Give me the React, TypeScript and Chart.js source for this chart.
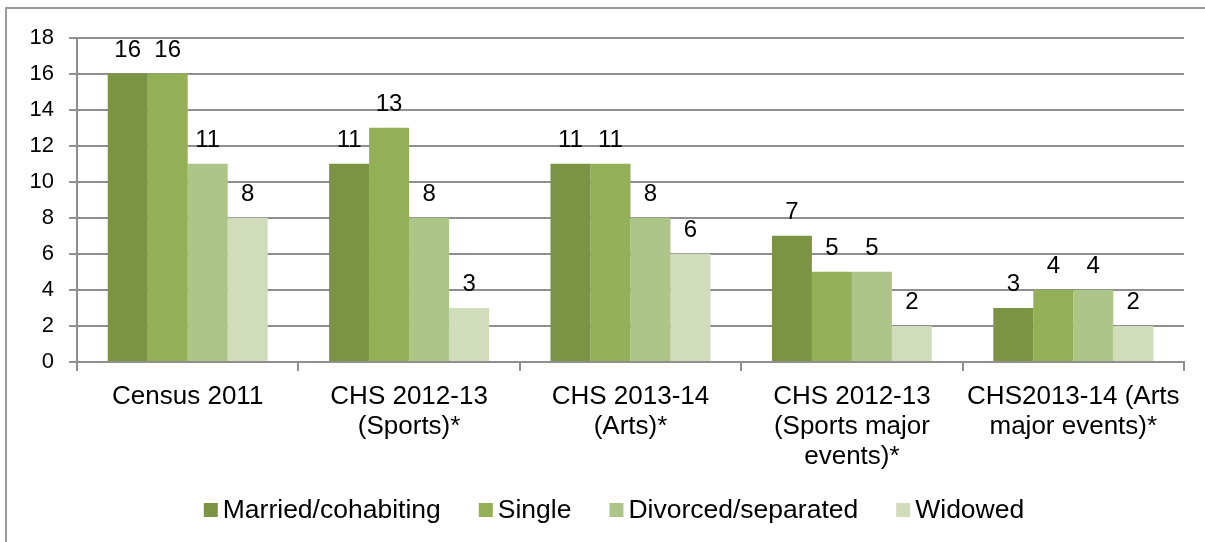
import React, { useEffect, useRef } from 'react';
import { Chart, registerables } from 'chart.js';

Chart.register(...registerables);

const FONT = '"Liberation Sans", Arial, Helvetica, sans-serif';

const categories: string[][] = [
  ['Census 2011'],
  ['CHS 2012-13', '(Sports)*'],
  ['CHS 2013-14', '(Arts)*'],
  ['CHS 2012-13', '(Sports major', 'events)*'],
  ['CHS2013-14 (Arts', 'major events)*'],
];
const seriesNames = ['Married/cohabiting', 'Single', 'Divorced/separated', 'Widowed'];
const married = [16, 11, 11, 7, 3];
const single = [16, 13, 11, 5, 4];
const divorced = [11, 8, 8, 5, 4];
const widowed = [8, 3, 6, 2, 2];
const seriesColors = ['#7A9444', '#93B057', '#ADC589', '#D0DCBA'];
const yMin = 0;
const yMax = 18;
const yStep = 2;

const GRID = '#8f8f8f';

const dataLabelPlugin = {
  id: 'dataLabels',
  afterDatasetsDraw(chart: any) {
    const ctx = chart.ctx;
    ctx.save();
    ctx.font = `24px ${FONT}`;
    ctx.fillStyle = '#000';
    ctx.textAlign = 'center';
    ctx.textBaseline = 'alphabetic';
    chart.data.datasets.forEach((ds: any, i: number) => {
      const meta = chart.getDatasetMeta(i);
      meta.data.forEach((bar: any, j: number) => {
        ctx.fillText(String(ds.data[j]), bar.x, bar.y - 17);
      });
    });
    ctx.restore();
  },
};

const legendPlugin = {
  id: 'customLegend',
  afterDraw(chart: any) {
    const ctx = chart.ctx;
    ctx.save();
    ctx.font = `26.5px ${FONT}`;
    const box = 14;
    const gap = 5;
    const spacing = 38;
    const items = chart.data.datasets.map((ds: any) => ({
      text: ds.label as string,
      color: ds.backgroundColor as string,
    }));
    const widths = items.map((it: any) => box + gap + ctx.measureText(it.text).width);
    const total = widths.reduce((a: number, b: number) => a + b, 0) + spacing * (items.length - 1);
    let x = 614 - total / 2;
    const baseline = 518;
    ctx.textBaseline = 'alphabetic';
    ctx.textAlign = 'left';
    items.forEach((it: any, i: number) => {
      ctx.fillStyle = it.color;
      ctx.fillRect(x, 503, box, box);
      ctx.fillStyle = '#000';
      ctx.fillText(it.text, x + box + gap, baseline);
      x += widths[i] + spacing;
    });
    ctx.restore();
  },
};

export default function App() {
  const canvasRef = useRef<HTMLCanvasElement | null>(null);

  useEffect(() => {
    const canvas = canvasRef.current;
    if (!canvas) return;
    const seriesData = [married, single, divorced, widowed];
    const chart = new Chart(canvas, {
      type: 'bar',
      data: {
        labels: categories,
        datasets: seriesNames.map((name, i) => ({
          label: name,
          data: seriesData[i],
          backgroundColor: seriesColors[i],
          borderWidth: 0,
          categoryPercentage: 0.7225,
          barPercentage: 1.0,
        })),
      },
      options: {
        responsive: false,
        animation: false,
        devicePixelRatio: 1,
        layout: { padding: { top: 37.5, right: 21, left: 0, bottom: 0 } },
        plugins: {
          legend: { display: false },
          title: { display: false },
          tooltip: { enabled: false },
        },
        scales: {
          x: {
            grid: {
              drawOnChartArea: false,
              drawTicks: true,
              tickLength: 9,
              color: GRID,
              lineWidth: 2,
              offset: true,
            },
            border: { display: true, color: GRID, width: 2 },
            ticks: {
              color: '#000',
              font: { family: FONT, size: 26, lineHeight: 1.154 },
              padding: 11,
              maxRotation: 0,
              minRotation: 0,
              autoSkip: false,
            },
            afterFit(scale: any) {
              scale.height = 180;
            },
          },
          y: {
            min: yMin,
            max: yMax,
            grid: {
              color: GRID,
              lineWidth: 2,
              tickLength: 8,
              drawTicks: true,
            },
            border: { display: true, color: GRID, width: 2 },
            ticks: {
              stepSize: yStep,
              color: '#000',
              font: { family: FONT, size: 22 },
              padding: 15,
            },
            afterFit(scale: any) {
              scale.width = 77;
            },
          },
        },
      },
      plugins: [dataLabelPlugin, legendPlugin],
    });
    return () => chart.destroy();
  }, []);

  return (
    <div
      style={{
        position: 'fixed',
        left: 0,
        top: 0,
        width: 1205,
        height: 542,
        background: '#fff',
        overflow: 'hidden',
      }}
    >
      <div
        style={{
          position: 'absolute',
          left: 5,
          top: 7,
          width: 1400,
          height: 800,
          border: '2px solid #9a9a9a',
        }}
      />
      <canvas
        ref={canvasRef}
        width={1205}
        height={542}
        style={{ position: 'absolute', left: 0, top: 0, width: 1205, height: 542 }}
      />
    </div>
  );
}
